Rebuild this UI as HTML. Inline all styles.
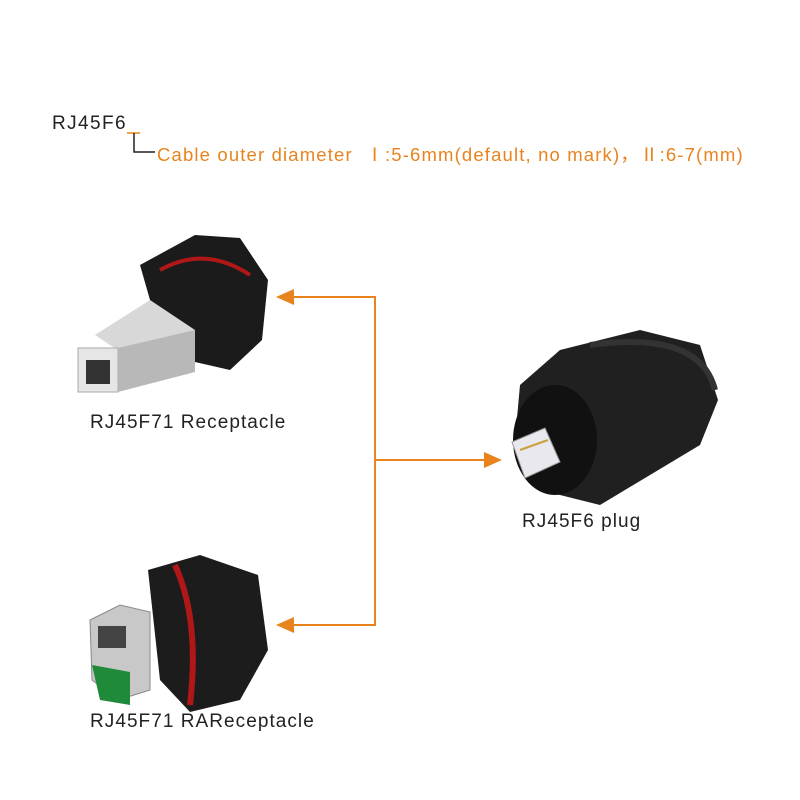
<!DOCTYPE html>
<html><head><style>
body{margin:0;background:#fff;}
.w{position:relative;width:800px;height:800px;overflow:hidden;font-family:"Liberation Sans","Noto Sans CJK SC",sans-serif;}
.t{position:absolute;white-space:nowrap;color:#222;font-size:19px;letter-spacing:1.05px;}
.o{color:#e8831e;}
</style></head><body><div class="w">
<svg width="800" height="800" style="position:absolute;left:0;top:0">
<line x1="127" y1="133" x2="140" y2="133" stroke="#e8831e" stroke-width="1.5"/>
<polyline points="134,133 134,152 155,152" fill="none" stroke="#222" stroke-width="1.5"/>
<g stroke="#e8831e" stroke-width="2" fill="none">
<polyline points="290,297 375,297 375,625 290,625"/>
<line x1="375" y1="460" x2="490" y2="460"/>
</g>
<g fill="#e8831e">
<polygon points="276,297 294,289 294,305"/>
<polygon points="276,625 294,617 294,633"/>
<polygon points="502,460 484,452 484,468"/>
</g>
<g>
<path d="M140,265 L195,235 L240,238 L268,280 L262,340 L230,370 L195,362 L150,300 Z" fill="#1b1b1b"/>
<path d="M160,270 Q205,245 250,275" stroke="#b01818" stroke-width="4" fill="none"/>
<path d="M95,335 L150,300 L195,330 L140,365 Z" fill="#d8d8d8"/>
<path d="M78,348 L118,348 L118,392 L78,392 Z" fill="#e6e6e6" stroke="#aaa"/>
<path d="M118,348 L195,330 L195,372 L118,392 Z" fill="#b8b8b8"/>
<rect x="86" y="360" width="24" height="24" fill="#333"/>
</g>
<g>
<path d="M148,570 L200,555 L258,575 L268,650 L240,700 L190,712 L160,680 Z" fill="#1c1c1c"/>
<path d="M175,565 Q200,620 190,705" stroke="#b01818" stroke-width="6" fill="none"/>
<path d="M90,620 L120,605 L150,612 L150,690 L118,700 L92,680 Z" fill="#c8c8c8" stroke="#888"/>
<rect x="98" y="626" width="28" height="22" fill="#444"/>
<path d="M92,665 L130,672 L130,705 L100,700 Z" fill="#1f8a3a"/>
</g>
<g>
<path d="M520,385 L560,350 L640,330 L700,345 L718,400 L700,445 L600,505 L540,490 L515,440 Z" fill="#202020"/>
<ellipse cx="555" cy="440" rx="42" ry="55" fill="#111"/>
<path d="M590,345 Q700,330 715,390" stroke="#333" stroke-width="6" fill="none"/>
<path d="M512,442 L545,428 L560,462 L525,478 Z" fill="#e8e8ee" stroke="#999"/>
<path d="M520,450 L548,440" stroke="#c9a040" stroke-width="2"/>
</g>
</svg>
<div class="t" style="left:52px;top:113px;letter-spacing:1.4px;">RJ45F6</div>
<div class="t o" style="left:157px;top:141px;font-size:18.5px;letter-spacing:1.15px;">Cable outer diameter&nbsp;&nbsp;Ⅰ:5-6mm(default, no mark)，Ⅱ:6-7(mm)</div>
<div class="t" style="left:90px;top:412px;">RJ45F71 Receptacle</div>
<div class="t" style="left:522px;top:511px;">RJ45F6 plug</div>
<div class="t" style="left:90px;top:711px;">RJ45F71 RAReceptacle</div>
</div></body></html>
